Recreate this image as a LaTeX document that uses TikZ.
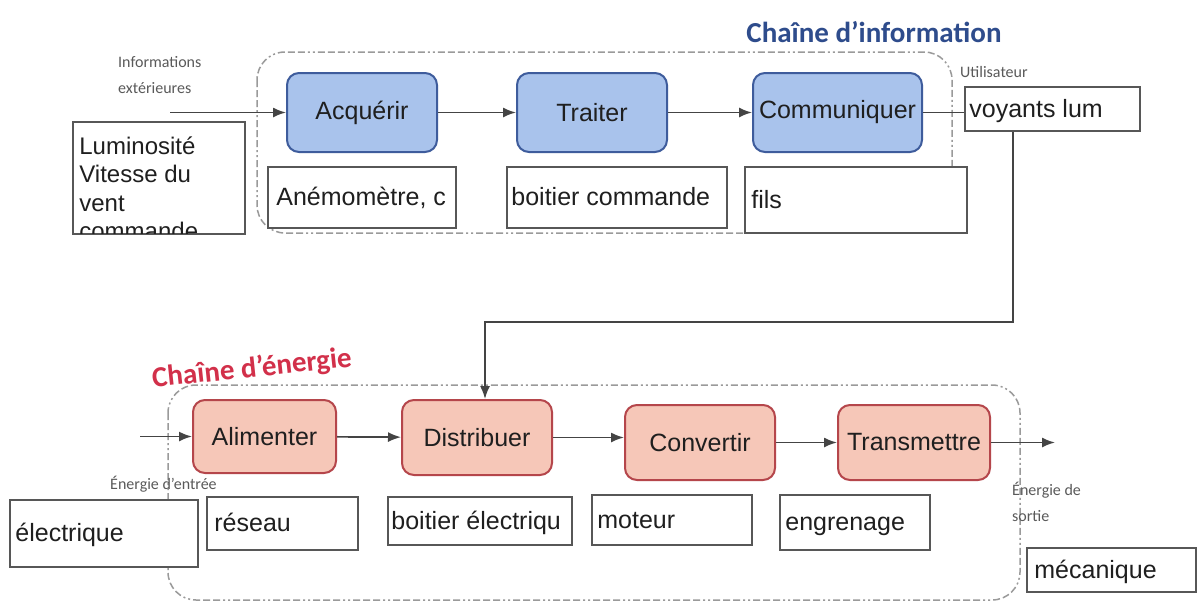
\documentclass[tikz,border=0pt]{standalone}
\usepackage{fontspec}
\setmainfont{Liberation Sans}
\newfontfamily\smallf{Carlito}
\usetikzlibrary{arrows.meta,calc}
\definecolor{infofill}{HTML}{A9C3EC}
\definecolor{infodraw}{HTML}{3E5C9C}
\definecolor{enfill}{HTML}{F6C7B8}
\definecolor{endraw}{HTML}{B5464B}
\definecolor{infotitle}{HTML}{2E4C8C}
\definecolor{entitle}{HTML}{D2304A}
\definecolor{lbl}{HTML}{5A5A5A}
\definecolor{linec}{HTML}{444444}
\definecolor{dashc}{HTML}{9A9A9A}
\tikzset{
 blk/.style={rounded corners=12pt, line width=2pt, inner sep=2pt, font=\fontsize{25}{29}\selectfont, text=black!88},
 iblk/.style={blk, fill=infofill, draw=infodraw},
 eblk/.style={blk, fill=enfill, draw=endraw},
 wbox/.style={draw=linec!90, line width=1.6pt, fill=white, inner sep=0pt},
 btxt/.style={font=\fontsize{25}{28}\selectfont, text=black!88, inner sep=0pt, anchor=base west},
 arr/.style={draw=linec, line width=1.7pt, -{Latex[length=13pt,width=10pt]}},
 lnk/.style={draw=linec, line width=1.7pt},
 chainbox/.style={draw=dashc, line width=1.5pt, rounded corners=28pt, dash pattern=on 7pt off 3pt on 7pt off 3pt on 7pt off 3pt on 2pt off 3pt on 2pt off 3pt},
 small/.style={font=\smallf\fontsize{16}{26}\selectfont, text=lbl, align=left, inner sep=0pt},
 ttl/.style={font=\smallf\bfseries\fontsize{29}{29}\selectfont, inner sep=0pt},
}
\begin{document}
\begin{tikzpicture}[x=1pt,y=-1pt]
\useasboundingbox (0,0) rectangle (1201,605);
\fill[white] (0,0) rectangle (1201,605);

% chain frames
\draw[chainbox] (257,52) rectangle (952,233);
\draw[chainbox] (168,385) rectangle (1020,600);

% titles
\node[ttl, text=infotitle] (tinfo) at (874,32) {Chaîne d’information};
\node[ttl, text=entitle, rotate=6] (tener) at (252,369) {Chaîne d’énergie};

% information chain blocks
\node[iblk, minimum width=150pt, minimum height=79pt] (acq) at (362,112.5) {Acquérir};
\node[iblk, minimum width=150pt, minimum height=79pt] (tra) at (592,112.5) {Traiter};
\node[iblk, minimum width=169pt, minimum height=79pt] (com) at (837.5,112.5) {Communiquer};

% energy chain blocks
\node[eblk, minimum width=143pt, minimum height=73pt] (ali) at (264.5,436.5) {Alimenter};
\node[eblk, minimum width=150pt, minimum height=75pt] (dis) at (477,437.5) {Distribuer};
\node[eblk, minimum width=150pt, minimum height=75pt] (con) at (700,442.5) {Convertir};
\node[eblk, minimum width=152pt, minimum height=75pt] (trm) at (914,442.5) {Transmettre};

% white boxes (information)
\node[wbox, minimum width=172pt, minimum height=112pt] (lum) at (159,178) {};
\begin{scope}
\clip ($(lum.south west)+(2,-1)$) rectangle ($(lum.north east)+(-2,1)$);
\node[btxt, anchor=north west, align=left, font=\fontsize{24}{28.5}\selectfont] (lumt) at ($(lum.north west)+(7,15)$) {Luminosité\\Vitesse du\\vent\\commande};
\end{scope}
\node[wbox, minimum width=188pt, minimum height=61pt] (ane) at (362,197.5) {};
\begin{scope}
\clip ($(ane.south west)+(2,-1)$) rectangle ($(ane.north east)+(-4,1)$);
\node[btxt] (anet) at ($(ane.west)+(9,8)$) {Anémomètre, c};
\end{scope}
\node[wbox, minimum width=220pt, minimum height=61pt] (bco) at (617,197.5) {};
\node[btxt] (bcot) at ($(bco.west)+(5,8)$) {boitier commande};
\node[wbox, minimum width=222pt, minimum height=66pt] (fil) at (856,200) {};
\node[btxt] (filt) at ($(fil.west)+(7,8)$) {fils};
\node[wbox, minimum width=175pt, minimum height=44pt] (vl) at (1052.5,109) {};
\node[btxt] (vlt) at ($(vl.west)+(5,8)$) {voyants lum};

% white boxes (energy)
\node[wbox, minimum width=188pt, minimum height=67pt] (ele) at (104,533.5) {};
\node[btxt] (elet) at ($(ele.west)+(6,8)$) {électrique};
\node[wbox, minimum width=151pt, minimum height=53pt] (res) at (282.5,523.5) {};
\node[btxt] (rest) at ($(res.west)+(8,8)$) {réseau};
\node[wbox, minimum width=184pt, minimum height=48pt] (bel) at (480,521) {};
\begin{scope}
\clip ($(bel.south west)+(2,-1)$) rectangle ($(bel.north east)+(-2,1)$);
\node[btxt] (belt) at ($(bel.west)+(4,8)$) {boitier électriqu};
\end{scope}
\node[wbox, minimum width=160pt, minimum height=50pt] (mot) at (672,520) {};
\node[btxt] (mott) at ($(mot.west)+(6,8)$) {moteur};
\node[wbox, minimum width=150pt, minimum height=55pt] (eng) at (855,522.5) {};
\node[btxt] (engt) at ($(eng.west)+(6,8)$) {engrenage};
\node[wbox, minimum width=169pt, minimum height=44pt] (mec) at (1111.5,570) {};
\node[btxt] (mect) at ($(mec.west)+(8,8)$) {mécanique};

% small labels
\node[small, anchor=west] (linfo) at (118,75) {Informations\\extérieures};
\node[small, anchor=west] (lutil) at (960,72) {Utilisateur};
\node[small, anchor=west] (lein) at (110,484) {Énergie d’entrée};
\node[small, anchor=west] (leout) at (1012,502) {Énergie de\\sortie};

% connectors information
\coordinate (inI) at (170,112.5);
\draw[arr] (inI) -- (acq.west);
\draw[arr] (acq) -- (tra);
\draw[arr] (tra) -- (com);
\draw[lnk] (com.east) -- (com.east -| vl.west);
\coordinate (bend) at (1013,322);
\draw[arr] (vl.south -| bend) -- (bend) -| ($(dis.north)+(8,0)$);

% connectors energy
\coordinate (inE) at (140,436.5);
\draw[arr] (inE) -- (ali.west);
\draw[arr] (ali) -- (dis);
\draw[arr] (dis.east) -- (dis.east -| con.west);
\draw[arr] (con) -- (trm);
\coordinate (outE) at (1055,442.5);
\draw[arr] (trm.east) -- (outE);
\end{tikzpicture}
\end{document}
